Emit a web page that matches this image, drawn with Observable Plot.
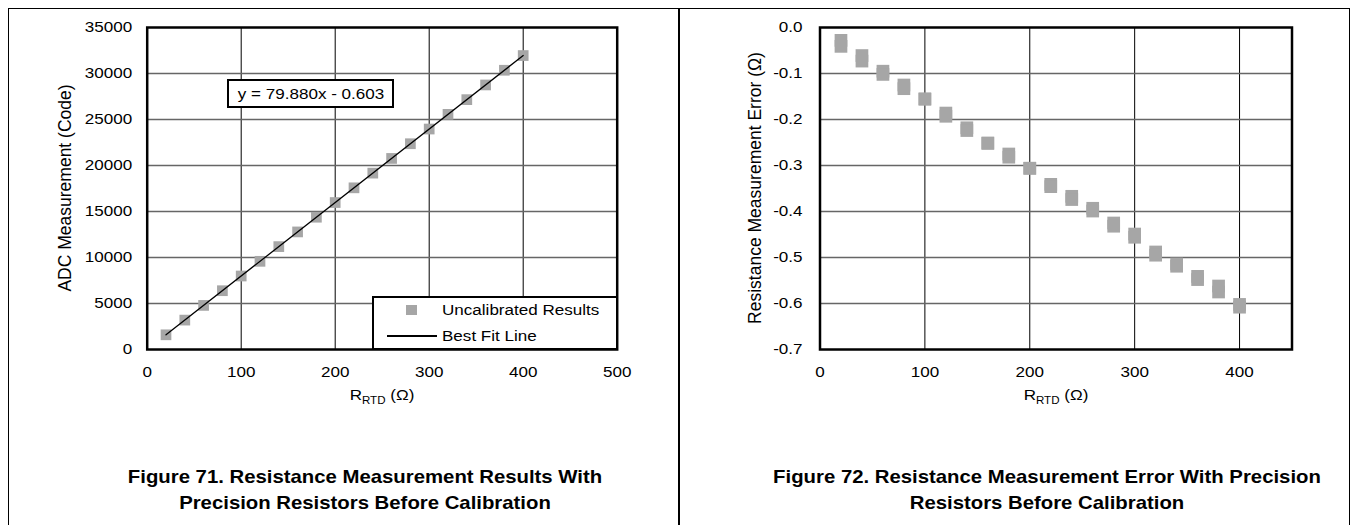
<!DOCTYPE html>
<html><head><meta charset="utf-8">
<script src="https://cdn.jsdelivr.net/npm/d3@7"></script>
<script src="https://cdn.jsdelivr.net/npm/@observablehq/plot@0.6"></script>
<style>
html,body{margin:0;padding:0;background:#fff;}
body{width:1351px;height:525px;overflow:hidden;position:relative;font-family:Arial,"Liberation Sans",sans-serif;color:#000;}
.abs{position:absolute;white-space:nowrap;}
.plotwrap{position:absolute;top:0;}
.plotwrap svg{display:block;overflow:visible;}
.ctr{transform:translate(-50%,-50%) scaleX(1.1);}
.lft{transform-origin:0 50%;transform:translateY(-50%) scaleX(1.1);}
.rot{transform:translate(-50%,-50%) rotate(-90deg);font-size:17.5px;}
.cap{font-weight:bold;font-size:19px;transform:translate(-50%,-50%) scaleX(1.07);}
.t15{font-size:15.5px;}
</style></head><body>
<div id="root"></div>
<script>
// ---------- data ----------
const rtdOhms = [20,40,60,80,100,120,140,160,180,200,220,240,260,280,300,320,340,360,380,400];
const adcCodes = [1597,3195,4792,6390,7987,9585,11183,12780,14378,15975,17573,19170,20768,22366,23963,25561,27158,28756,30353,31951];
const fitRtd = [20,400];
const fitCode = [1597.0,31951.4];
const errRunA = [-0.028,-0.061,-0.095,-0.125,-0.155,-0.186,-0.218,-0.251,-0.275,-0.306,-0.341,-0.367,-0.393,-0.425,-0.449,-0.488,-0.514,-0.541,-0.562,-0.602];
const errRunB = [-0.041,-0.073,-0.102,-0.133,-0.156,-0.193,-0.224,-0.252,-0.282,-0.306,-0.346,-0.374,-0.399,-0.432,-0.456,-0.495,-0.519,-0.548,-0.575,-0.608];
const xTicksLeft = [0,100,200,300,400,500];
const yTicksLeft = [0,5000,10000,15000,20000,25000,30000,35000];
const xTicksRight = [0,100,200,300,400];
const yTicksRight = [0,-0.1,-0.2,-0.3,-0.4,-0.5,-0.6,-0.7];
const fitEquation = "y = 79.880x - 0.603";
const legendLabels = ["Uncalibrated Results","Best Fit Line"];
const yTitleLeft = "ADC Measurement (Code)";
const yTitleRight = "Resistance Measurement Error (\u03A9)";
const captionLeft = ["Figure 71. Resistance Measurement Results With","Precision Resistors Before Calibration"];
const captionRight = ["Figure 72. Resistance Measurement Error With Precision","Resistors Before Calibration"];

// ---------- setup ----------
const SX = 1.1;
const FONT = "Arial, 'Liberation Sans', sans-serif";
const markerGray = "#a6a6a6";

const pts = rtdOhms.map((r,i)=>({r, code: adcCodes[i]}));
const fit = fitRtd.map((r,i)=>({r, code: fitCode[i]}));
const errA = rtdOhms.map((r,i)=>({r, e: errRunA[i]}));
const errB = rtdOhms.map((r,i)=>({r, e: errRunB[i]}));

function stretchText(svg){
  svg.querySelectorAll("text").forEach(t=>{
    const w = t.getComputedTextLength();
    if (w>0){ t.setAttribute("textLength", (w*SX).toFixed(2)); t.setAttribute("lengthAdjust","spacingAndGlyphs"); }
  });
}
function addDiv(cls, html, left, top, extra){
  const d = document.createElement("div");
  d.className = "abs " + cls;
  d.innerHTML = html;
  d.style.left = left + "px"; d.style.top = top + "px";
  if (extra) Object.assign(d.style, extra);
  document.body.appendChild(d);
  return d;
}

// ---------- left chart ----------
const leftPlot = Plot.plot({
  width: 679, height: 420,
  marginLeft: 146.7, marginRight: 62.3, marginTop: 27, marginBottom: 71,
  style: {fontFamily: FONT, fontSize: "15.5px", color: "#000", background: "transparent", overflow: "visible"},
  x: {domain: [0,500]},
  y: {domain: [0,35000]},
  marks: [
    Plot.ruleX(xTicksLeft.filter(d=>d>0 && d<500), {stroke:"#000", strokeWidth:1}),
    Plot.ruleY(yTicksLeft.filter(d=>d>0 && d<35000), {stroke:"#666", strokeWidth:1.6}),
    Plot.dot(pts, {x:"r", y:"code", symbol:"square", r:6.04, fill:markerGray, stroke:"none"}),
    Plot.line(fit, {x:"r", y:"code", stroke:"#000", strokeWidth:1.3}),
    Plot.frame({stroke:"#000", strokeWidth:2.5}),
    Plot.axisX(xTicksLeft, {tickSize:0, tickPadding:16.5, tickFormat:d=>String(d), label:null}),
    Plot.axisY(yTicksLeft, {tickSize:0, tickPadding:15, tickFormat:d=>String(d), label:null})
  ]
});
const lw = document.createElement("div"); lw.className="plotwrap"; lw.style.left="0px";
lw.appendChild(leftPlot); document.body.appendChild(lw);
stretchText(leftPlot);

// ---------- right chart ----------
const rightPlot = Plot.plot({
  width: 672, height: 420,
  marginLeft: 140.5, marginRight: 59.5, marginTop: 27, marginBottom: 71,
  style: {fontFamily: FONT, fontSize: "15.5px", color: "#000", background: "transparent", overflow: "visible"},
  x: {domain: [0,450]},
  y: {domain: [-0.7,0]},
  marks: [
    Plot.ruleX(xTicksRight.filter(d=>d>0), {stroke:"#000", strokeWidth:1}),
    Plot.ruleY(yTicksRight.filter(d=>d<0 && d>-0.7), {stroke:"#666", strokeWidth:1.6}),
    Plot.dot(errA, {x:"r", y:"e", symbol:"square", r:7.17, fill:markerGray, stroke:"none"}),
    Plot.dot(errB, {x:"r", y:"e", symbol:"square", r:7.17, fill:markerGray, stroke:"none"}),
    Plot.frame({stroke:"#000", strokeWidth:2.5}),
    Plot.axisX(xTicksRight, {tickSize:0, tickPadding:16.5, tickFormat:d=>String(d), label:null}),
    Plot.axisY(yTicksRight, {tickSize:0, tickPadding:17.5, tickFormat:d=>d.toFixed(1), label:null})
  ]
});
const rw = document.createElement("div"); rw.className="plotwrap"; rw.style.left="679px";
rw.appendChild(rightPlot); document.body.appendChild(rw);
stretchText(rightPlot);

// ---------- annotation and legend (left chart) ----------
addDiv("", "", 227, 79.3, {width:"167px", height:"29px", border:"2px solid #000", boxSizing:"border-box", background:"#fff"});
addDiv("ctr t15", fitEquation, 310.5, 94);
addDiv("", "", 372.3, 296, {width:"245.6px", height:"54px", border:"2px solid #000", boxSizing:"border-box", background:"#fff"});
addDiv("", "", 406, 304.7, {width:"10.7px", height:"10.7px", background:markerGray});
addDiv("lft t15", legendLabels[0], 442.3, 310);
addDiv("", "", 387.3, 335.4, {width:"49.4px", height:"1.3px", background:"#000"});
addDiv("lft t15", legendLabels[1], 442.3, 336);

// ---------- axis titles ----------
const xTitle = 'R<span style="font-size:10.5px;position:relative;top:4px;">RTD</span> (\u03A9)';
addDiv("ctr t15", xTitle, 381.7, 395);
addDiv("ctr t15", xTitle, 1055.5, 395);
addDiv("rot", yTitleLeft, 65, 188);
addDiv("rot", yTitleRight, 755, 188);

// ---------- captions ----------
addDiv("cap", captionLeft[0], 365, 476.7);
addDiv("cap", captionLeft[1], 365, 503.3);
addDiv("cap", captionRight[0], 1046.7, 476.7);
addDiv("cap", captionRight[1], 1046.7, 503.3);

// ---------- outer frame and divider ----------
addDiv("", "", 8, 8.3, {width:"1342px", height:"520px", border:"1.3px solid #000", boxSizing:"border-box"});
addDiv("", "", 678.4, 8.3, {width:"1.3px", height:"520px", background:"#000"});
</script>
</body></html>
